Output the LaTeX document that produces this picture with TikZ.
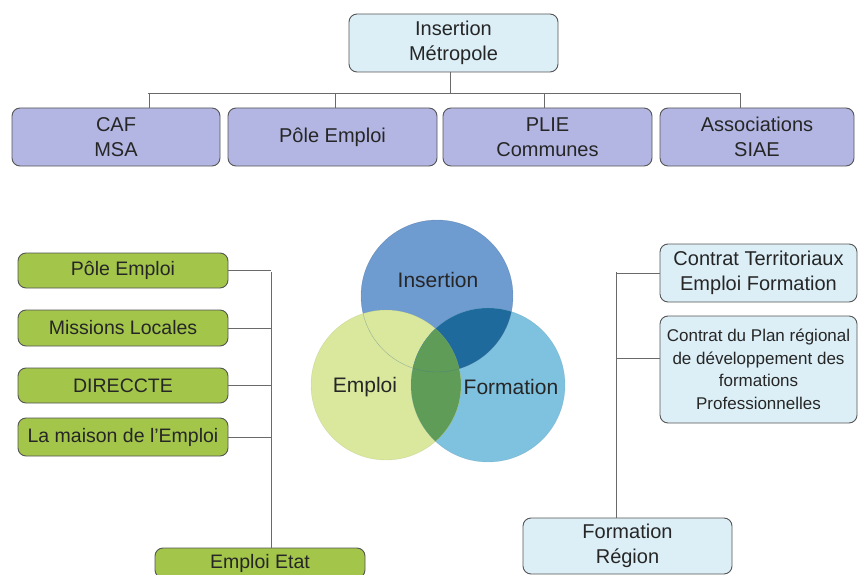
\documentclass[tikz,border=0pt]{standalone}
\usepackage{fontspec}
\setmainfont{Liberation Sans}
\definecolor{txt}{HTML}{262626}
\definecolor{edge}{HTML}{555555}
\definecolor{lnk}{HTML}{6A6A6A}
\definecolor{lblue}{HTML}{DCEFF7}
\definecolor{lav}{HTML}{B3B6E3}
\definecolor{grn}{HTML}{A2C54A}
\definecolor{cIns}{HTML}{6E9BD0}
\definecolor{cEmp}{HTML}{D9E89C}
\definecolor{cFor}{HTML}{7EC2DF}
\definecolor{cIF}{HTML}{1E6A9C}
\definecolor{cEF}{HTML}{5E9C58}
\begin{document}
\begin{tikzpicture}[x=1pt,y=-1pt,
  box/.style={draw=edge,line width=0.9pt,rounded corners=8pt,align=center,
    text=txt,inner sep=0pt,font=\fontsize{20}{24.5}\selectfont},
  topbox/.style={box,fill=lblue},
  lavbox/.style={box,fill=lav},
  grnbox/.style={box,fill=grn,font=\fontsize{19.5}{23}\selectfont},
  link/.style={draw=lnk,line width=0.8pt},
  vlabel/.style={text=txt,font=\fontsize{21}{25}\selectfont,inner sep=0pt}]
\useasboundingbox (0,0) rectangle (859,575);
\clip (0,0) rectangle (859,575);

% top
\node[topbox,minimum width=209pt,minimum height=58pt] (top) at (453.5,43) {Insertion\\Métropole};
\node[lavbox,minimum width=208pt,minimum height=58pt] (caf) at (116,137) {CAF\\MSA};
\node[lavbox,minimum width=209pt,minimum height=58pt] (pole) at (332.5,137) {Pôle Emploi};
\node[lavbox,minimum width=209pt,minimum height=58pt] (plie) at (547.5,137) {PLIE\\Communes};
\node[lavbox,minimum width=194pt,minimum height=58pt] (assoc) at (757,137) {Associations\\SIAE};

\coordinate (hb) at (450,93);
\draw[link] (top.south -| hb) -- (hb);
\draw[link] (148,93) coordinate (hl) -- (740,93) coordinate (hr);
\draw[link] (caf.north -| 149,0) -- (149,93);
\draw[link] (pole.north -| 335,0) -- (335,93);
\draw[link] (plie.north -| 544,0) -- (544,93);
\draw[link] (assoc.north -| 740,0) -- (740,93);

% left green
\node[grnbox,minimum width=210pt,minimum height=35pt] (g1) at (123,270.5) {Pôle Emploi};
\node[grnbox,minimum width=210pt,minimum height=36pt] (g2) at (123,328) {Missions Locales};
\node[grnbox,minimum width=210pt,minimum height=35pt] (g3) at (123,385.5) {DIRECCTE};
\node[grnbox,minimum width=210pt,minimum height=38pt] (g4) at (123,437) {La maison de l'Emploi};
\node[grnbox,minimum width=210pt,minimum height=30pt] (etat) at (260,563) {Emploi Etat};

\coordinate (lb) at (271,272);
\draw[link] (lb) -- (etat.north -| lb);
\draw[link] (g1.east) -- (g1.east -| lb);
\draw[link] (g2.east) -- (g2.east -| lb);
\draw[link] (g3.east) -- (g3.east -| lb);
\draw[link] (g4.east) -- (g4.east -| lb);

% right
\node[topbox,minimum width=197pt,minimum height=58pt] (ct) at (758.5,273) {Contrat Territoriaux\\Emploi Formation};
\node[topbox,minimum width=197pt,minimum height=107pt,font=\fontsize{17}{22.5}\selectfont] (cp) at (758.5,369.5) {Contrat du Plan régional\\de développement des\\formations\\Professionnelles};
\node[topbox,minimum width=209pt,minimum height=56pt] (fr) at (627.5,546) {Formation\\Région};

\coordinate (rb) at (616,272);
\draw[link] (rb) -- (fr.north -| rb);
\draw[link] (ct.west) -- (ct.west -| rb);
\draw[link] ([yshift=11.5pt]cp.west) -- ([yshift=11.5pt]cp.west -| rb);

% Venn
\coordinate (ci) at (437,296);
\coordinate (ce) at (386,385);
\coordinate (cf) at (488,385);
\fill[cIns] (ci) circle (76);
\fill[cFor] (cf) circle (77);
\fill[cEmp] (ce) circle (75);
\begin{scope}
  \clip (ci) circle (76);
  \fill[cIF] (cf) circle (77);
\end{scope}
\begin{scope}
  \clip (ce) circle (75);
  \fill[cEF] (cf) circle (77);
\end{scope}
\draw[draw=cIns!70!black,line width=0.4pt,opacity=0.45] (ci) circle (76);
\draw[draw=cFor!80!black,line width=0.4pt,opacity=0.4] (cf) circle (77);
\draw[draw=cEmp!80!black,line width=0.4pt,opacity=0.4] (ce) circle (75);
\node[vlabel] (li) at (438,280) {Insertion};
\node[vlabel] (le) at (365,387) {Emploi};
\node[vlabel] (lf) at (511,387) {Formation};
\end{tikzpicture}
\end{document}
